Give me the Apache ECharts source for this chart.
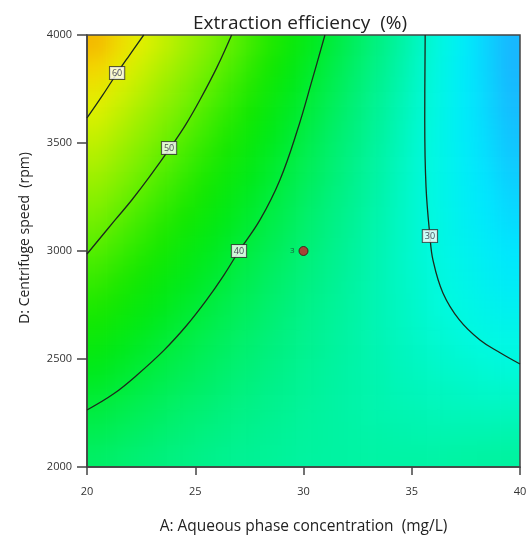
<!DOCTYPE html>
<html>
<head>
<meta charset="utf-8">
<script src="https://cdn.jsdelivr.net/npm/echarts@6/dist/echarts.min.js"></script>
<style>
html,body{margin:0;padding:0;background:#fff;}
#wrap{position:relative;width:529px;height:535px;}
#fieldClip{position:absolute;left:87px;top:35px;width:433px;height:432px;overflow:hidden;}
#field{position:absolute;left:-22px;top:-22px;width:477px;height:476px;filter:blur(9px);}
#main{position:absolute;left:0;top:0;width:529px;height:535px;}
</style>
</head>
<body>
<div id="wrap">
	<div id="fieldClip"><div id="field"></div></div>
	<div id="main"></div>
</div>
<script>
// cell centres of the colour field (A in mg/L, D in rpm)
var aCenters = [20.5,21.5,22.5,23.5,24.5,25.5,26.5,27.5,28.5,29.5,30.5,31.5,32.5,33.5,34.5,35.5,36.5,37.5,38.5,39.5];
var dCenters = [3950,3850,3750,3650,3550,3450,3350,3250,3150,3050,2950,2850,2750,2650,2550,2450,2350,2250,2150,2050];

// extraction efficiency (%) read for each cell, one row per dCenters entry (top row first)
var effRows = [
  [64.8,62.3,59.8,57.4,55.0,52.7,50.3,48.1,45.8,43.7,41.5,39.4,37.3,35.3,33.3,31.3,29.4,27.5,25.6,23.8],
  [63.0,60.6,58.2,55.9,53.6,51.4,49.2,47.0,44.9,42.8,40.7,38.7,36.7,34.8,32.9,31.0,29.2,27.4,25.7,24.0],
  [61.2,58.9,56.7,54.4,52.3,50.1,48.0,46.0,43.9,41.9,40.0,38.1,36.2,34.4,32.6,30.8,29.1,27.4,25.8,24.2],
  [59.5,57.3,55.1,53.0,51.0,48.9,46.9,45.0,43.0,41.1,39.3,37.5,35.7,34.0,32.3,30.7,29.0,27.5,25.9,24.4],
  [57.8,55.7,53.7,51.7,49.7,47.7,45.8,44.0,42.2,40.4,38.6,36.9,35.3,33.7,32.1,30.5,29.0,27.5,26.1,24.7],
  [56.2,54.2,52.2,50.3,48.4,46.6,44.8,43.1,41.3,39.7,38.0,36.4,34.9,33.3,31.9,30.4,29.0,27.6,26.3,25.0],
  [54.6,52.7,50.8,49.0,47.3,45.5,43.8,42.2,40.6,39.0,37.5,36.0,34.5,33.1,31.7,30.4,29.1,27.8,26.6,25.4],
  [53.0,51.2,49.5,47.8,46.1,44.5,42.9,41.3,39.8,38.4,36.9,35.5,34.2,32.9,31.6,30.3,29.1,28.0,26.9,25.8],
  [51.5,49.8,48.1,46.5,45.0,43.5,42.0,40.5,39.1,37.8,36.4,35.1,33.9,32.7,31.5,30.4,29.3,28.2,27.2,26.2],
  [50.0,48.4,46.9,45.4,43.9,42.5,41.1,39.8,38.5,37.2,36.0,34.8,33.6,32.5,31.5,30.4,29.4,28.5,27.6,26.7],
  [48.5,47.0,45.6,44.2,42.9,41.5,40.3,39.0,37.8,36.7,35.5,34.5,33.4,32.4,31.4,30.5,29.6,28.8,28.0,27.2],
  [47.1,45.7,44.4,43.1,41.9,40.7,39.5,38.3,37.2,36.2,35.2,34.2,33.2,32.3,31.5,30.7,29.9,29.1,28.4,27.7],
  [45.7,44.5,43.2,42.1,40.9,39.8,38.7,37.7,36.7,35.7,34.8,34.0,33.1,32.3,31.6,30.8,30.1,29.5,28.9,28.3],
  [44.4,43.2,42.1,41.0,40.0,39.0,38.0,37.1,36.2,35.3,34.5,33.8,33.0,32.3,31.7,31.0,30.5,29.9,29.4,29.0],
  [43.1,42.0,41.0,40.0,39.1,38.2,37.3,36.5,35.7,35.0,34.3,33.6,33.0,32.4,31.8,31.3,30.8,30.4,30.0,29.6],
  [41.8,40.9,40.0,39.1,38.3,37.5,36.7,36.0,35.3,34.7,34.0,33.5,32.9,32.5,32.0,31.6,31.2,30.9,30.6,30.3],
  [40.6,39.8,39.0,38.2,37.5,36.8,36.1,35.5,34.9,34.4,33.9,33.4,33.0,32.6,32.2,31.9,31.7,31.4,31.2,31.1],
  [39.4,38.7,38.0,37.3,36.7,36.1,35.5,35.0,34.6,34.1,33.7,33.4,33.0,32.7,32.5,32.3,32.1,32.0,31.9,31.9],
  [38.3,37.7,37.1,36.5,36.0,35.5,35.0,34.6,34.2,33.9,33.6,33.4,33.1,33.0,32.8,32.7,32.6,32.6,32.6,32.7],
  [37.2,36.7,36.2,35.7,35.3,34.9,34.5,34.2,34.0,33.7,33.5,33.4,33.3,33.2,33.2,33.2,33.2,33.3,33.4,33.5]
];

// contour lines, [A, D]
var contour60 = [[22.62,4000],[21.95,3905],[21.39,3824],[20.7,3718],[20,3616]];
var contour50 = [[26.68,4000],[26.0,3850],[25.22,3700],[24.56,3585],[23.84,3477],[22.9,3345],[22.07,3236],[21.3,3144],[20,2986]];
var contour40 = [[30.99,4000],[30.4,3792],[29.72,3560],[28.91,3329],[27.99,3144],[27.02,3000],[26.3,2885],[25.5,2770],[24.6,2655],[23.55,2540],[22.3,2425],[21.25,2340],[20,2264]];
var contour30 = [[35.62,4000],[35.6,3606],[35.66,3296],[35.84,3069],[35.98,2958],[36.44,2806],[37.2,2681],[38.15,2588],[39.1,2528],[40,2477]];

// contour label boxes [A, D, text]
var contourLabels = [[21.39,3824,'60'],[23.79,3477,'50'],[27.02,3000,'40'],[35.84,3069,'30']];

// design centre point [A, D, replicates]
var centerPoint = [[30,3000,'3']];

var xTicks = [20,25,30,35,40];
var yTicks = [2000,2500,3000,3500,4000];

var fieldColors = ['#18b8ff','#00e8ff','#00fae0','#00f4a8','#00f078','#00ee48','#00ea18','#14e800',
                   '#40ec00','#70f000','#98f000','#c0f000','#e4f000','#f4d400','#f4a800'];

var FONT = "'Open Sans', 'DejaVu Sans', sans-serif";

// background colour field, its own chart so it can be softened with css blur;
// one extra cell is repeated on each side so the blur has no empty border
(function(){
	var nx = aCenters.length, ny = dCenters.length;
	var heatData = [], xCats = [], yCats = [];
	for (var i = -1; i <= nx; i++) xCats.push(String(i));
	for (var j = -1; j <= ny; j++) yCats.push(String(j));
	for (var r = -1; r <= ny; r++) {
		var rr = Math.min(Math.max(r, 0), ny - 1);
		for (var c = -1; c <= nx; c++) {
			var cc = Math.min(Math.max(c, 0), nx - 1);
			heatData.push([c + 1, ny - r, effRows[rr][cc]]);
		}
	}
	var ch = echarts.init(document.getElementById('field'));
	ch.setOption({
		animation: false,
		grid: {left: 0, right: 0, top: 0, bottom: 0, outerBoundsMode: 'none'},
		xAxis: {type: 'category', data: xCats, show: false},
		yAxis: {type: 'category', data: yCats, show: false},
		visualMap: {type: 'continuous', show: false, min: 24, max: 66, inRange: {color: fieldColors}},
		series: [{type: 'heatmap', data: heatData, silent: true, emphasis: {disabled: true}}]
	});
})();

(function(){
	var chart = echarts.init(document.getElementById('main'));

	function contourLine(name, pts){
		return {
			name: name,
			type: 'line',
			data: pts,
			smooth: 0.4,
			symbol: 'none',
			z: 4,
			lineStyle: {color: '#1c2a1c', width: 1.3},
			silent: true
		};
	}

	var option = {
		animation: false,
		backgroundColor: 'transparent',
		textStyle: {fontFamily: FONT},
		title: {
			text: 'Extraction efficiency  (%)',
			left: 295,
			top: 9,
			textAlign: 'center',
			textStyle: {fontFamily: FONT, fontSize: 19, fontWeight: 'normal', color: '#222'}
		},
		grid: {left: 87, right: 9, top: 35, bottom: 68, outerBoundsMode: 'none',
			show: true, borderColor: '#444', borderWidth: 1.5, backgroundColor: 'transparent'},
		xAxis: {
			type: 'value',
			min: 20,
			max: 40,
			interval: 5,
			name: 'A: Aqueous phase concentration  (mg/L)',
			nameLocation: 'middle',
			nameGap: 52,
			nameTextStyle: {fontFamily: FONT, fontSize: 15.5, color: '#222'},
			axisLine: {lineStyle: {color: '#444', width: 1.5}},
			axisTick: {show: true, length: 8, lineStyle: {color: '#444', width: 1.5}},
			axisLabel: {margin: 19, fontSize: 11, color: '#333', fontFamily: FONT,
				formatter: function(v){ return xTicks.indexOf(v) >= 0 ? String(v) : ''; }},
			splitLine: {show: false}
		},
		yAxis: {
			type: 'value',
			min: 2000,
			max: 4000,
			interval: 500,
			name: 'D: Centrifuge speed  (rpm)',
			nameLocation: 'middle',
			nameGap: 55,
			nameTextStyle: {fontFamily: FONT, fontSize: 14, color: '#222', padding: [0, 0, 0, 26]},
			axisLine: {lineStyle: {color: '#444', width: 1.5}},
			axisTick: {show: true, length: 10, lineStyle: {color: '#444', width: 1.5}},
			axisLabel: {margin: 15, fontSize: 11, color: '#333', fontFamily: FONT,
				formatter: function(v){ return yTicks.indexOf(v) >= 0 ? String(v) : ''; }},
			splitLine: {show: false}
		},
		series: [
			contourLine('60', contour60),
			contourLine('50', contour50),
			contourLine('40', contour40),
			contourLine('30', contour30),
			{
				name: 'labels',
				type: 'scatter',
				data: contourLabels,
				symbolSize: 0,
				z: 8,
				silent: true,
				label: {
					show: true,
					position: 'inside',
					formatter: function(p){ return p.value[2]; },
					fontSize: 9,
					fontFamily: FONT,
					color: '#223',
					backgroundColor: '#fff',
					borderColor: '#333',
					borderWidth: 1,
					padding: [2, 2, 1, 2]
				}
			},
			{
				name: 'center',
				type: 'scatter',
				data: centerPoint,
				symbol: 'circle',
				symbolSize: 9,
				z: 8,
				silent: true,
				itemStyle: {color: '#d01828', borderColor: '#331111', borderWidth: 1},
				label: {
					show: true,
					position: 'left',
					distance: 4,
					formatter: function(p){ return p.value[2]; },
					fontSize: 8,
					fontFamily: FONT,
					color: '#233'
				}
			}
		]
	};
	chart.setOption(option);
})();
</script>
</body>
</html>
